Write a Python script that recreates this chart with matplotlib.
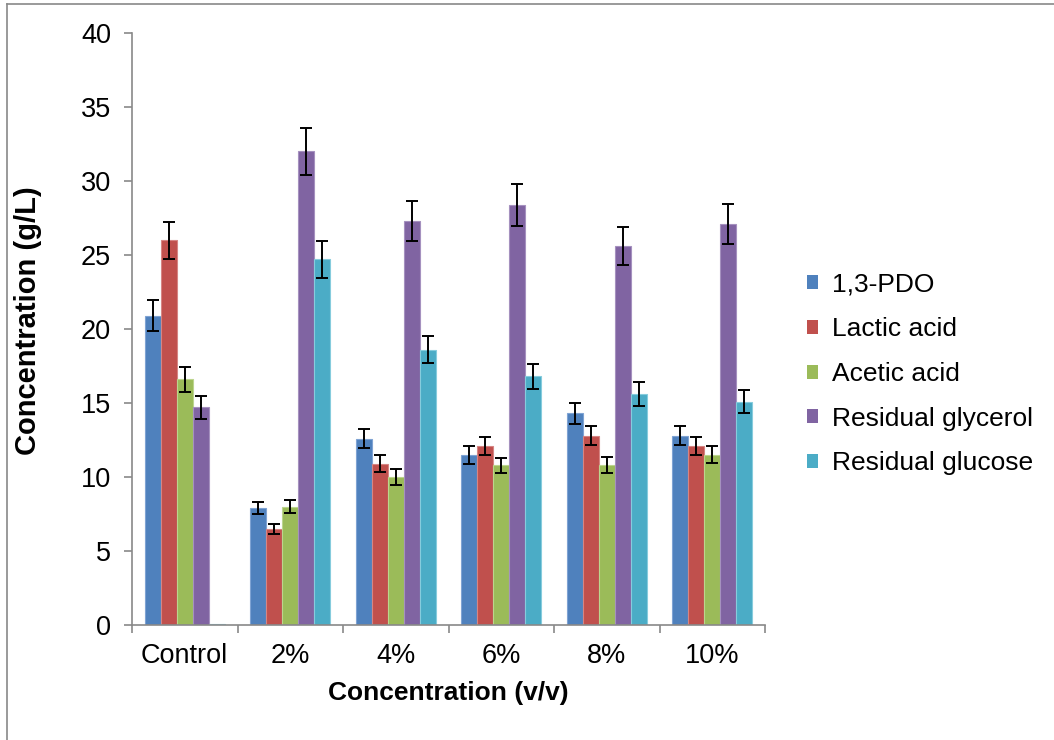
import matplotlib
matplotlib.use("Agg")
import matplotlib.pyplot as plt
import numpy as np
from matplotlib.patches import Patch
from matplotlib.lines import Line2D

plt.rcParams['font.family'] = ['Liberation Sans', 'DejaVu Sans']

categories = ["Control", "2%", "4%", "6%", "8%", "10%"]
series_names = ["1,3-PDO", "Lactic acid", "Acetic acid", "Residual glycerol", "Residual glucose"]

pdo = [20.9, 7.9, 12.6, 11.5, 14.3, 12.8]
lactic = [26.0, 6.5, 10.9, 12.1, 12.8, 12.1]
acetic = [16.6, 8.0, 10.0, 10.8, 10.8, 11.5]
glycerol = [14.7, 32.0, 27.3, 28.4, 25.6, 27.1]
glucose = [0.05, 24.7, 18.6, 16.8, 15.6, 15.1]

pdo_err = [1.05, 0.42, 0.65, 0.6, 0.7, 0.66]
lactic_err = [1.25, 0.33, 0.56, 0.6, 0.64, 0.63]
acetic_err = [0.85, 0.42, 0.52, 0.5, 0.54, 0.58]
glycerol_err = [0.75, 1.6, 1.35, 1.42, 1.28, 1.36]
glucose_err = [0.0, 1.25, 0.93, 0.85, 0.79, 0.77]

colors = ["#4F81BD", "#C0504D", "#9BBB59", "#8064A2", "#4BACC6"]
edges = ["#7FA3D3", "#D68583", "#BCD58E", "#A591BF", "#86CCDD"]

values = [pdo, lactic, acetic, glycerol, glucose]
errors = [pdo_err, lactic_err, acetic_err, glycerol_err, glucose_err]

fig = plt.figure(figsize=(10.54, 7.40), dpi=100)
ax = fig.add_axes([132 / 1054, 1 - 625 / 740, (765 - 132) / 1054, (625 - 33) / 740])

x = np.arange(len(categories))
width = 0.152
for k, (vals, errs) in enumerate(zip(values, errors)):
    pos = x + (k - 2) * width
    ax.bar(pos, vals, width=width, color=colors[k], edgecolor=edges[k],
           linewidth=0.8, zorder=2)
    e = np.array(errs)
    mask = e > 0
    ax.errorbar(pos[mask], np.array(vals)[mask], yerr=e[mask], fmt='none',
                ecolor='black', elinewidth=1.4, capsize=4.5, capthick=1.4, zorder=3)

ax.set_xlim(-0.5, len(categories) - 0.5)
ax.set_ylim(0, 40)
ax.set_yticks(np.arange(0, 41, 5))

gray = "#898989"
for side in ["top", "right"]:
    ax.spines[side].set_visible(False)
for side in ["left", "bottom"]:
    ax.spines[side].set_color(gray)
    ax.spines[side].set_linewidth(1.2)

ax.tick_params(axis='y', which='major', direction='out', length=6, width=1.2,
               color=gray, labelsize=19.5, pad=9)
ax.set_xticks(np.arange(-0.5, len(categories)), minor=False)
ax.set_xticklabels([])
ax.set_xticks(x, minor=True)
ax.set_xticklabels(categories, minor=True)
ax.tick_params(axis='x', which='major', direction='out', length=6, width=1.2, color=gray)
ax.tick_params(axis='x', which='minor', length=0, labelsize=19.5, pad=13)

fig.text(448 / 1054, 1 - 693 / 740, "Concentration (v/v)", ha='center', va='center',
         fontsize=19, fontweight='bold')
fig.text(28 / 1054, 1 - 321 / 740, "Concentration (g/L)", ha='center', va='center',
         rotation=90, fontsize=21, fontweight='bold')

handles = [Patch(facecolor=c, edgecolor='none') for c in colors]
fig.legend(handles, series_names, loc='center left',
           bbox_to_anchor=(807 / 1054, 1 - 374 / 740), frameon=False,
           fontsize=19, handlelength=0.43, handleheight=0.43,
           handletextpad=0.5, labelspacing=0.78, borderaxespad=0, borderpad=0)

# outer border
fig.add_artist(Line2D([7 / 1054, 7 / 1054], [0, 1 - 4 / 740], color=gray, lw=1.2,
                      transform=fig.transFigure))
fig.add_artist(Line2D([7 / 1054, 1], [1 - 4 / 740, 1 - 4 / 740], color=gray, lw=1.2,
                      transform=fig.transFigure))

fig.savefig("out.png", dpi=100)
